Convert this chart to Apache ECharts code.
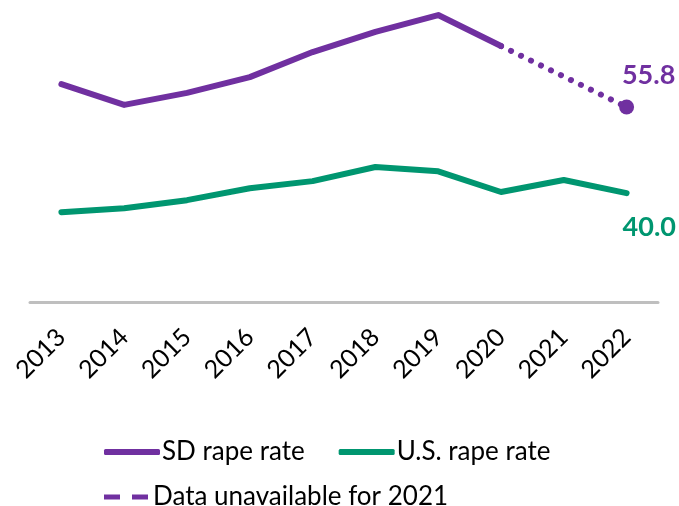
<!DOCTYPE html>
<html>
<head>
<meta charset="utf-8">
<script src="https://cdn.jsdelivr.net/npm/echarts@6/dist/echarts.min.js"></script>
<style>html,body{margin:0;padding:0;background:#fff}#c{width:679px;height:506px}</style>
</head>
<body>
<div id="c"></div>
<script>
const years = ['2013','2014','2015','2016','2017','2018','2019','2020','2021','2022'];
const sdRate = [60.0, 56.2, 58.4, 61.3, 65.9, 69.6, 72.7, 67.0, null, 55.8];
const usRate = [36.5, 37.2, 38.7, 40.9, 42.2, 44.8, 44.0, 40.2, 42.4, 40.0];
const seriesNames = ['SD rape rate', 'U.S. rape rate', 'Data unavailable for 2021'];

const PURPLE = '#7030A0', GREEN = '#009670';
const FONT = 'Lato';
const last = years.length - 1;
const gapStart = 7; // 2020
const sdSolid = sdRate.map((v, i) => i <= gapStart ? v : null);
const sdGap = sdRate.map((v, i) => i >= gapStart ? v : null);
const sdPoint = sdRate.map((v, i) => i === last ? v : null);

const chart = echarts.init(document.getElementById('c'));
chart.setOption({
  animation: false,
  textStyle: { fontFamily: FONT },
  grid: { left: 30, right: 21, top: 2.5, bottom: 204 },
  xAxis: {
    type: 'category', data: years, boundaryGap: true,
    axisLine: { lineStyle: { color: '#BFBFBF', width: 3 } },
    axisTick: { show: false },
    axisLabel: { rotate: 45, fontSize: 25, color: '#000', margin: 31, fontFamily: FONT }
  },
  yAxis: { type: 'value', min: 20, max: 75, show: false, splitLine: { show: false } },
  legend: [
    {
      left: 99, top: 434, itemWidth: 56, itemHeight: 6, itemGap: 34,
      itemStyle: { borderWidth: 0 },
      textStyle: { fontSize: 26, color: '#000', fontFamily: FONT, padding: [0, 0, 0, -3] },
      data: [
        { name: seriesNames[0], icon: 'roundRect' },
        { name: seriesNames[1], icon: 'roundRect' }
      ]
    },
    {
      left: 99, top: 479, itemWidth: 44, itemHeight: 5,
      itemStyle: { borderWidth: 0 },
      textStyle: { fontSize: 26, color: '#000', fontFamily: FONT },
      data: [{ name: seriesNames[2], icon: 'path://M0,0H16V5H0Z M28,0H44V5H28Z' }]
    }
  ],
  series: [
    {
      name: seriesNames[0], type: 'line', data: sdSolid, symbol: 'none',
      lineStyle: { color: PURPLE, width: 6, cap: 'round', join: 'round' },
      itemStyle: { color: PURPLE }
    },
    {
      name: seriesNames[1], type: 'line', data: usRate, symbol: 'none',
      lineStyle: { color: GREEN, width: 6, cap: 'round', join: 'round' },
      itemStyle: { color: GREEN },
      endLabel: {
        show: true, formatter: p => usRate[last].toFixed(1), color: GREEN,
        fontSize: 27, fontWeight: 'bold', fontFamily: FONT, distance: 0, offset: [-4, 34]
      }
    },
    {
      name: seriesNames[2], type: 'line', data: sdGap, connectNulls: true, symbol: 'none',
      lineStyle: { color: PURPLE, width: 6, type: [0.1, 11], cap: 'round' },
      itemStyle: { color: PURPLE }
    },
    {
      name: 'sdPoint', type: 'scatter', data: sdPoint, symbol: 'circle', symbolSize: 15,
      itemStyle: { color: PURPLE, opacity: 1 },
      label: {
        show: true, position: 'top', offset: [22, -6], color: PURPLE, opacity: 1,
        fontSize: 27, fontWeight: 'bold', fontFamily: FONT,
        formatter: p => p.value.toFixed(1)
      }
    }
  ]
});
</script>
</body>
</html>
